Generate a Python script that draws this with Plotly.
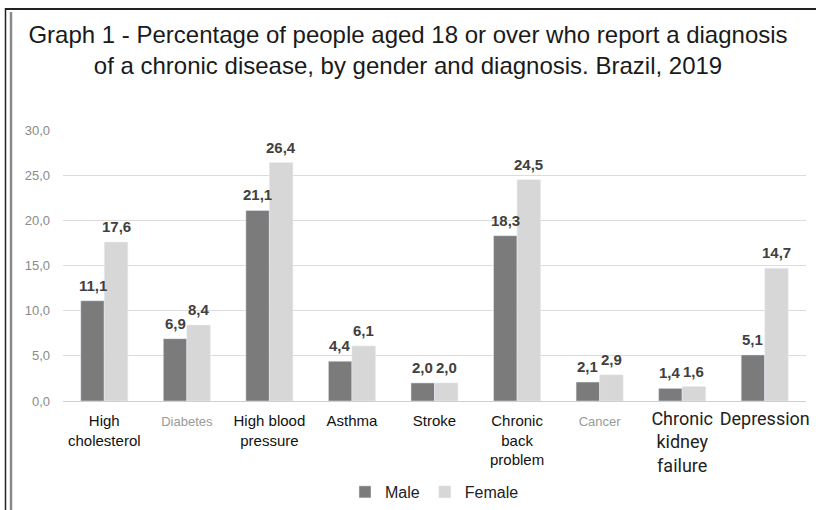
import plotly.graph_objects as go

# ---- data ----
categories = ["High cholesterol", "Diabetes", "High blood pressure", "Asthma", "Stroke",
              "Chronic back problem", "Cancer", "Chronic kidney failure", "Depression"]
male = [11.1, 6.9, 21.1, 4.4, 2.0, 18.3, 2.1, 1.4, 5.1]
female = [17.6, 8.4, 26.4, 6.1, 2.0, 24.5, 2.9, 1.6, 14.7]
y_ticks = [0, 5, 10, 15, 20, 25, 30]

# tick labels: most sit on the main x axis, the two large ones on an overlaid axis
main_ticks = ["High cholesterol", "Diabetes", "High blood pressure", "Asthma", "Stroke",
              "Chronic back problem", "Cancer"]
main_text = ["High<br>cholesterol", "Diabetes", "High blood<br>pressure", "Asthma", "Stroke",
             "Chronic<br>back<br>problem", "Cancer"]
big_ticks = ["Chronic kidney failure", "Depression"]
big_text = ["Chronic<br>kidney<br>failure", "Depression"]
grey_ticks = {"Diabetes", "Cancer"}

ARIAL = "Liberation Sans, Arial, sans-serif"


def styled(cat, txt):
    if cat in grey_ticks:
        return f'<span style="font-size:13px;color:#9a9a9a">{txt}</span>'
    return txt


W, H = 816, 510
ML, MR, MT, MB = 63, 10, 130, 109
BARGAP = 0.43
MALE_C, FEMALE_C = "#7b7b7b", "#d7d7d7"

fig = go.Figure()
fig.add_bar(name="Male", x=categories, y=male, marker_color=MALE_C)
fig.add_bar(name="Female", x=categories, y=female, marker_color=FEMALE_C)

# value labels above each bar
off = (1 - BARGAP) / 4
for i, (m, f) in enumerate(zip(male, female)):
    for xv, v in ((i - off, m), (i + off, f)):
        fig.add_annotation(x=xv, y=v, text=f"{v:.1f}".replace(".", ","),
                           showarrow=False, yanchor="bottom", yshift=5,
                           font=dict(family=ARIAL, size=15, color="#404040",
                                     weight="bold"))


def px_x(p):
    return (p - ML) / (W - ML - MR)


def px_y(p):
    return (H - MB - p) / (H - MT - MB)


frame = dict(xref="paper", yref="paper", type="line", layer="above")
fig.add_shape(x0=px_x(5), x1=px_x(W), y0=px_y(9), y1=px_y(9),
              line=dict(color="#222222", width=2), **frame)
fig.add_shape(x0=px_x(5.5), x1=px_x(5.5), y0=px_y(8), y1=px_y(H),
              line=dict(color="#222222", width=1.5), **frame)
fig.add_shape(x0=px_x(11), x1=px_x(11), y0=px_y(12), y1=px_y(H),
              line=dict(color="#8a8a8a", width=2.5), **frame)

fig.update_layout(
    width=W, height=H,
    margin=dict(l=ML, r=MR, t=MT, b=MB, autoexpand=False),
    paper_bgcolor="white", plot_bgcolor="white",
    separators=",.",
    barmode="group", bargap=BARGAP, bargroupgap=0,
    title=dict(
        text="Graph 1 - Percentage of people aged 18 or over who report a diagnosis<br>"
             "of a chronic disease, by gender and diagnosis. Brazil, 2019",
        x=0.5, xref="container", xanchor="center",
        y=1 - 43 / H, yref="container", yanchor="top",
        font=dict(family=ARIAL, size=24, color="#1a1a1a"),
    ),
    xaxis=dict(
        categoryorder="array", categoryarray=categories,
        tickmode="array", tickvals=main_ticks,
        ticktext=[styled(c, t) for c, t in zip(main_ticks, main_text)],
        tickfont=dict(family=ARIAL, size=15, color="#111111"),
        showgrid=False, showline=False, ticks="", tickangle=0,
        ticklabelstandoff=9, automargin=False,
    ),
    xaxis2=dict(
        matches="x", overlaying="x", anchor="y", side="bottom",
        categoryorder="array", categoryarray=categories,
        tickmode="array", tickvals=big_ticks, ticktext=big_text,
        tickfont=dict(family="Roboto, sans-serif", size=18, color="#222222"),
        showgrid=False, showline=False, ticks="", tickangle=0,
        ticklabelstandoff=5, automargin=False,
    ),
    yaxis=dict(
        range=[0, 30], tickvals=y_ticks, tickformat=".1f",
        tickfont=dict(family=ARIAL, size=13, color="#8a8a8a"),
        gridcolor="#dcdcdc", gridwidth=1,
        zeroline=True, zerolinecolor="#cfcfcf", zerolinewidth=1,
        showline=False, ticks="", ticklabelstandoff=12, automargin=False,
    ),
    legend=dict(
        orientation="h", x=0.5, xanchor="center", y=px_y(492), yanchor="middle",
        font=dict(family=ARIAL, size=16, color="#222222"),
        itemwidth=30, traceorder="normal",
    ),
    showlegend=True,
)

# an empty trace keeps the overlaid axis drawn
fig.add_scatter(x=[categories[0]], y=[None], xaxis="x2", showlegend=False,
                hoverinfo="skip", mode="markers")

fig.write_html("out.html")
